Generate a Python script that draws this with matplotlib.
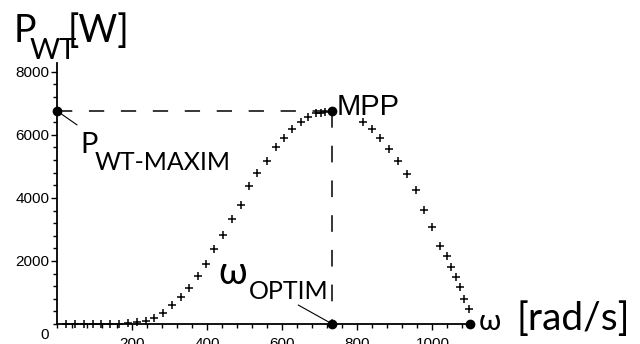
import matplotlib
matplotlib.use("Agg")
import matplotlib.pyplot as plt
from matplotlib.ticker import MultipleLocator, FixedLocator

# wind turbine power curve
omega = [24, 48, 71, 95, 118, 142, 165, 189, 212, 236, 259, 282, 307, 330, 351,
         376, 397, 419, 442, 466, 489, 511, 534, 559, 583, 605, 625, 650, 669,
         690, 703, 714,
         815, 839, 861, 885, 909, 932, 956, 977, 999, 1021, 1040, 1049, 1062,
         1073, 1085, 1097]
power = [0, 0, 0, 0, 0, 0, 5, 20, 50, 100, 200, 359, 593, 857, 1143,
         1524, 1918, 2385, 2835, 3318, 3762, 4370, 4778, 5184, 5610, 5895, 6181,
         6403, 6581, 6689, 6708, 6721,
         6403, 6181, 5895, 5546, 5184, 4752, 4254, 3619, 3089, 2476, 2168, 1819,
         1501, 1165, 794, 467]

omega_optim = 733
p_max = 6760
omega_max = 1100

x_ticks = [200, 400, 600, 800, 1000]
y_ticks = [2000, 4000, 6000, 8000]

W, H = 640, 344
plt.rcParams['lines.scale_dashes'] = False
label_font = ['Lato', 'Open Sans', 'DejaVu Sans']

fig = plt.figure(figsize=(W / 100, H / 100), dpi=100)
ax = fig.add_axes([57 / W, 20 / H, 413 / W, 261 / H])
ax.set_xlim(0, 1100)
ax.set_ylim(0, 8280)

for s in ['top', 'right']:
    ax.spines[s].set_visible(False)
for s in ['left', 'bottom']:
    ax.spines[s].set_linewidth(1.3)

ax.xaxis.set_major_locator(FixedLocator(x_ticks))
ax.xaxis.set_minor_locator(MultipleLocator(40))
ax.yaxis.set_major_locator(FixedLocator(y_ticks))
ax.yaxis.set_minor_locator(MultipleLocator(400))
ax.tick_params(which='major', direction='out', length=4.5, width=1, labelsize=11, pad=1)
ax.tick_params(which='minor', direction='out', length=3, width=1)
ax.tick_params(axis='x', which='major', pad=5)
for lab in ax.get_xticklabels() + ax.get_yticklabels():
    lab.set_family('Liberation Sans')

# curve
ax.plot(omega, power, ls='none', marker='+', ms=5.5, mew=1.1, color='black', clip_on=False)

# dashed guides to MPP
ax.plot([0, omega_optim], [p_max, p_max], color='black', lw=1.1, dashes=[11, 12])
ax.plot([omega_optim, omega_optim], [p_max, 0], color='black', lw=1.1, dashes=[12, 13])

# key points
ax.plot([0, omega_optim, omega_optim, omega_max], [p_max, p_max, 0, 0], ls='none',
        marker='o', ms=6, color='black', clip_on=False, zorder=5)

# origin label
ax.annotate('0', (0, 0), xytext=(-12, -4), textcoords='offset pixels',
            ha='center', va='top', fontsize=11, family='Liberation Sans')

# MPP
ax.annotate('MPP', (omega_optim, p_max), xytext=(4, -4), textcoords='offset pixels',
            ha='left', va='baseline', fontsize=21, family='Liberation Sans')

# P_WT-MAXIM
ax.annotate('', (0, p_max), xytext=(20, -14), textcoords='offset pixels',
            arrowprops=dict(arrowstyle='-', color='black', lw=0.8, shrinkA=0, shrinkB=0))
ax.annotate('P', (0, p_max), xytext=(23, -42), textcoords='offset pixels',
            ha='left', va='baseline', fontsize=21, family=label_font)
ax.annotate('WT-MAXIM', (0, p_max), xytext=(38, -59), textcoords='offset pixels',
            ha='left', va='baseline', fontsize=18, family=label_font)

# omega_OPTIM
ax.annotate('', (omega_optim, 0), xytext=(-34, 19), textcoords='offset pixels',
            arrowprops=dict(arrowstyle='-', color='black', lw=0.8, shrinkA=0, shrinkB=0))
ax.annotate('ω', (omega_optim, 0), xytext=(-114, 40), textcoords='offset pixels',
            ha='left', va='baseline', fontsize=27, family=label_font)
ax.annotate('OPTIM', (omega_optim, 0), xytext=(-83, 25), textcoords='offset pixels',
            ha='left', va='baseline', fontsize=18, family=label_font)

# x axis label
ax.annotate('ω', (omega_max, 0), xytext=(9, -6), textcoords='offset pixels',
            ha='left', va='baseline', fontsize=21, family=label_font)
ax.annotate('[rad/s]', (omega_max, 0), xytext=(46, -6), textcoords='offset pixels',
            ha='left', va='baseline', fontsize=28, family=label_font)

# y axis label
fig.text(14 / W, 1 - 42 / H, 'P', ha='left', va='baseline', fontsize=27, family=label_font)
fig.text(30 / W, 1 - 59 / H, 'WT', ha='left', va='baseline', fontsize=21, family=label_font)
fig.text(68 / W, 1 - 42 / H, '[W]', ha='left', va='baseline', fontsize=27, family=label_font)

fig.savefig('out.png', dpi=100)
